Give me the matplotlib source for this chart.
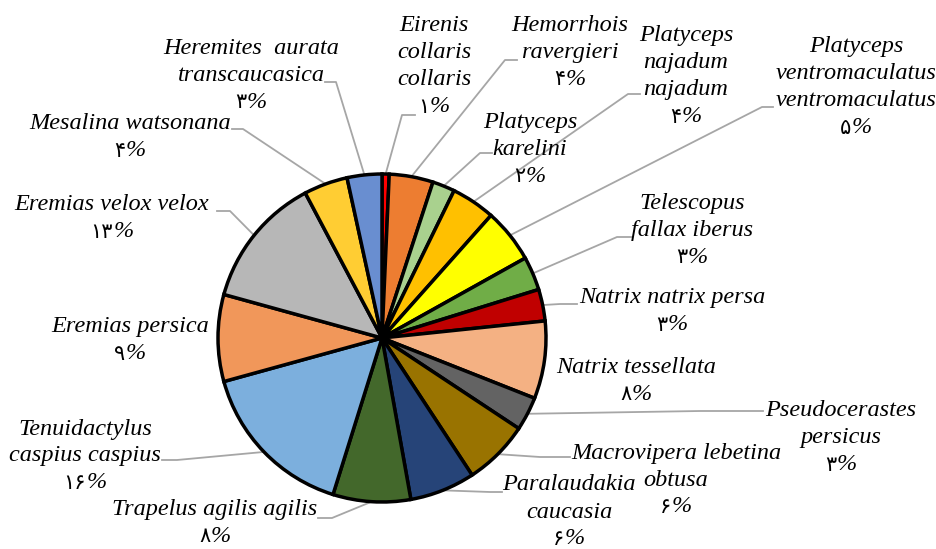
import matplotlib
matplotlib.use('Agg')
import matplotlib.pyplot as plt
import numpy as np

# shares, clockwise from 12 o'clock
species = ['Eirenis\ncollaris\ncollaris', 'Hemorrhois\nravergieri', 'Platyceps\nkarelini',
           'Platyceps\nnajadum\nnajadum', 'Platyceps\nventromaculatus\nventromaculatus',
           'Telescopus\nfallax iberus', 'Natrix natrix persa', 'Natrix tessellata',
           'Pseudocerastes\npersicus', 'Macrovipera lebetina\nobtusa', 'Paralaudakia\ncaucasia',
           'Trapelus agilis agilis', 'Tenuidactylus\ncaspius caspius', 'Eremias persica',
           'Eremias velox velox', 'Mesalina watsonana', 'Heremites  aurata\ntranscaucasica']
shares = [0.7, 4.3, 2.2, 4.3, 5.3, 3.3, 3.1, 7.6, 3.3, 6.4, 6.4, 7.6, 15.8, 8.5, 12.9, 4.3, 3.4]
pct_digits = ['۱', '۴', '۲', '۴', '۵', '۳', '۳', '۸', '۳', '۶', '۶', '۸',
              '۱۶', '۹', '۱۳', '۴', '۳']
colors = ['#FF0000', '#ED7D31', '#A9D18E', '#FFC000', '#FFFF00', '#70AD47', '#C00000',
          '#F4B183', '#636363', '#997300', '#264478', '#43682B', '#7CAFDD', '#F1975A',
          '#B7B7B7', '#FFCD33', '#698ED0']

# layout (pixels from top-left): label centre, leader elbow, leader end
lab_pos = [(434, 66), (570, 52), (530, 149), (686, 76), (856, 87), (692, 230), (672, 311),
           (636, 381), (841, 438), (676, 480), (569, 512), (215, 523), (85, 456),
           (130, 340), (112, 218), (130, 137), (251, 75)]
leaders = [((402, 115), (415, 115)), ((505, 60), (517, 60)), ((480, 153), (492, 153)),
           ((628, 94), (640, 94)), ((762, 107), (773, 107)), ((617, 237), (632, 237)),
           ((560, 304), (577, 304)), None, ((700, 411), (763, 411)), ((540, 457), (570, 457)),
           ((490, 492), (502, 492)), ((332, 518), (318, 518)), ((177, 460), (162, 460)),
           None, ((230, 211), (217, 211)), ((243, 129), (232, 129)), ((336, 82), (325, 82))]

W, H = 937, 549
cx, cy, R = 382, 338, 164
step = 27  # line pitch of the labels

fig = plt.figure(figsize=(9.37, 5.49), dpi=100)
ax = fig.add_axes([0, 0, 1, 1])
wedges, _ = ax.pie(shares, colors=colors, startangle=90, counterclock=False,
                   radius=R, center=(cx, H - cy),
                   wedgeprops=dict(edgecolor='black', linewidth=2.5))
ax.set_xlim(0, W)
ax.set_ylim(0, H)
ax.set_aspect('equal')
ax.axis('off')

font = dict(family=['Liberation Serif', 'DejaVu Sans'], style='italic', fontsize=17.5)
renderer = fig.canvas.get_renderer()

for w, name, dg, pos, ld in zip(wedges, species, pct_digits, lab_pos, leaders):
    n = name.count('\n') + 1
    ytop = pos[1] - n * step / 2
    for i, line in enumerate(name.split('\n')):
        ax.text(pos[0], H - (ytop + i * step), line, ha='center', va='center', **font)
    yp = H - (ytop + n * step)
    t1 = ax.text(0, yp, dg, ha='left', va='center', family='DejaVu Sans', fontsize=15)
    t2 = ax.text(0, yp, '%', ha='left', va='center', **font)
    w1 = t1.get_window_extent(renderer).width
    w2 = t2.get_window_extent(renderer).width
    x0 = pos[0] - (w1 + w2) / 2
    t1.set_x(x0)
    t2.set_x(x0 + w1)
    if ld is None:
        continue
    mid = np.deg2rad((w.theta1 + w.theta2) / 2)
    rx = w.center[0] + R * np.cos(mid)
    ry = w.center[1] + R * np.sin(mid)
    ax.plot([rx, ld[0][0], ld[1][0]], [ry, H - ld[0][1], H - ld[1][1]],
            color='#A6A6A6', lw=1.3, zorder=0)

plt.savefig('out.png', dpi=100)
